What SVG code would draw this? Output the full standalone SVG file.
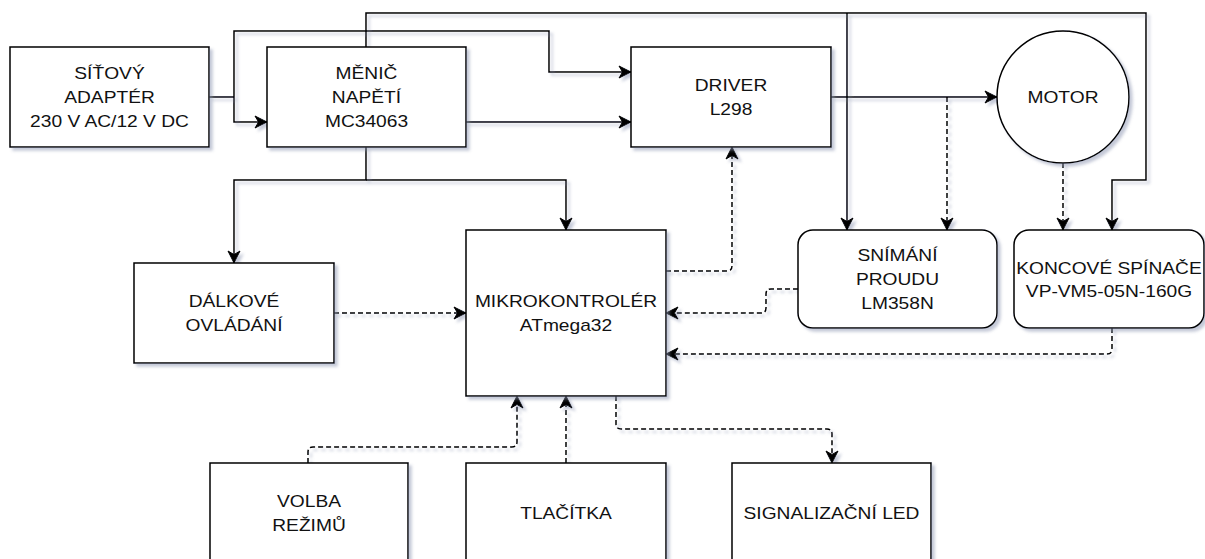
<svg xmlns="http://www.w3.org/2000/svg" width="1205" height="559" viewBox="0 0 1205 559">
<defs>
<filter id="sh" x="-10%" y="-10%" width="130%" height="130%">
<feGaussianBlur in="SourceAlpha" stdDeviation="1.6"/>
<feOffset dx="3" dy="3" result="b"/>
<feFlood flood-color="#8a93b0" flood-opacity="0.5"/>
<feComposite in2="b" operator="in"/>
<feMerge><feMergeNode/><feMergeNode in="SourceGraphic"/></feMerge>
</filter>
<marker id="arr" viewBox="-13 -7 14 14" markerWidth="14" markerHeight="14" refX="0" refY="0" orient="auto" markerUnits="userSpaceOnUse">
<path d="M0,0 L-12,-6 L-8.5,0 L-12,6 Z" fill="#000" stroke="#000" stroke-width="1" stroke-dasharray="none"/>
</marker>
</defs>
<style>
.box{fill:#fff;stroke:#000;stroke-width:1.5}
.ln{fill:none;stroke:#000;stroke-width:1.5;marker-end:url(#arr)}
.pl{fill:none;stroke:#000;stroke-width:1.5}
.d{stroke-dasharray:5 3}
.t{font-family:"Liberation Sans",Arial,sans-serif;font-size:16px;fill:#111;text-anchor:middle}
</style>
<rect width="1205" height="559" fill="#fff"/>
<g id="connectors" filter="url(#sh)">
<path class="pl" d="M209,97 H234"/>
<path class="ln" d="M234,97 V31 H549 V72 H631"/>
<path class="ln" d="M234,97 V122 H267"/>
<path class="ln" d="M466,122 H631"/>
<path class="ln" d="M366,147 V180 H234 V263"/>
<path class="ln" d="M366,180 H566 V230"/>
<path class="ln" d="M366,47 V13 H1146 V180 H1112 V230"/>
<path class="ln" d="M847,13 V230"/>
<path class="ln" d="M831,97 H997"/>
<path class="ln d" d="M947,97 V230"/>
<path class="ln d" d="M1063,163 V230"/>
<path class="ln d" d="M666,271 H727 Q732,271 732,266 V147"/>
<path class="ln d" d="M798,289 H771 Q766,289 766,294 V308 Q766,313 761,313 H666"/>
<path class="ln d" d="M1112,328 V349 Q1112,354 1107,354 H666"/>
<path class="ln d" d="M334,313 H466"/>
<path class="ln d" d="M308,463 V452 Q308,447 313,447 H512 Q517,447 517,442 V396"/>
<path class="ln d" d="M566,463 V396"/>
<path class="ln d" d="M616,396 V424 Q616,429 621,429 H827 Q832,429 832,434 V463"/>
</g>
<g id="adapter">
<rect class="box" x="10" y="47" width="199" height="100" filter="url(#sh)"/>
<text class="t" transform="translate(109.5,79) scale(1.2,1)">SÍŤOVÝ</text>
<text class="t" transform="translate(109.5,103) scale(1.2,1)">ADAPTÉR</text>
<text class="t" transform="translate(109.5,127) scale(1.2,1)">230 V AC/12 V DC</text>
</g>
<g id="menic">
<rect class="box" x="267" y="47" width="199" height="100" filter="url(#sh)"/>
<text class="t" transform="translate(366.5,79) scale(1.2,1)">MĚNIČ</text>
<text class="t" transform="translate(366.5,103) scale(1.2,1)">NAPĚTÍ</text>
<text class="t" transform="translate(366.5,127) scale(1.2,1)">MC34063</text>
</g>
<g id="driver">
<rect class="box" x="631" y="47" width="200" height="100" filter="url(#sh)"/>
<text class="t" transform="translate(731,91) scale(1.2,1)">DRIVER</text>
<text class="t" transform="translate(731,115) scale(1.2,1)">L298</text>
</g>
<g id="motor">
<circle class="box" cx="1063" cy="97" r="66" filter="url(#sh)"/>
<text class="t" transform="translate(1063,103) scale(1.2,1)">MOTOR</text>
</g>
<g id="snimani">
<rect class="box" x="798" y="230" width="199" height="98" rx="15" filter="url(#sh)"/>
<text class="t" transform="translate(897.5,261) scale(1.2,1)">SNÍMÁNÍ</text>
<text class="t" transform="translate(897.5,285) scale(1.2,1)">PROUDU</text>
<text class="t" transform="translate(897.5,309) scale(1.2,1)">LM358N</text>
</g>
<g id="koncove">
<rect class="box" x="1014" y="230" width="190" height="98" rx="15" filter="url(#sh)"/>
<text class="t" transform="translate(1109,274) scale(1.2,1)">KONCOVÉ SPÍNAČE</text>
<text class="t" transform="translate(1109,297) scale(1.2,1)">VP-VM5-05N-160G</text>
</g>
<g id="dalkove">
<rect class="box" x="134" y="263" width="200" height="100" filter="url(#sh)"/>
<text class="t" transform="translate(234,307) scale(1.2,1)">DÁLKOVÉ</text>
<text class="t" transform="translate(234,331) scale(1.2,1)">OVLÁDÁNÍ</text>
</g>
<g id="mcu">
<rect class="box" x="466" y="230" width="200" height="166" filter="url(#sh)"/>
<text class="t" transform="translate(566,307) scale(1.2,1)">MIKROKONTROLÉR</text>
<text class="t" transform="translate(566,331) scale(1.2,1)">ATmega32</text>
</g>
<g id="volba">
<rect class="box" x="210" y="463" width="198" height="100" filter="url(#sh)"/>
<text class="t" transform="translate(309,507) scale(1.2,1)">VOLBA</text>
<text class="t" transform="translate(309,531) scale(1.2,1)">REŽIMŮ</text>
</g>
<g id="tlacitka">
<rect class="box" x="466" y="463" width="200" height="100" filter="url(#sh)"/>
<text class="t" transform="translate(566,519) scale(1.2,1)">TLAČÍTKA</text>
</g>
<g id="led">
<rect class="box" x="732" y="463" width="199" height="100" filter="url(#sh)"/>
<text class="t" transform="translate(831.5,519) scale(1.2,1)">SIGNALIZAČNÍ LED</text>
</g>
</svg>
